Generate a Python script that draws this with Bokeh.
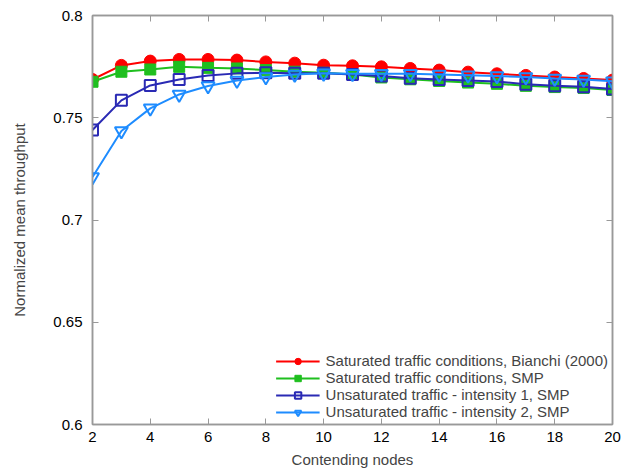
from bokeh.plotting import figure
from bokeh.models import LinearAxis, FixedTicker, Legend, LegendItem, Range1d
from bokeh.embed import file_html
from bokeh.resources import INLINE

nodes = list(range(2, 21))
bianchi = [0.7687, 0.7756, 0.7777, 0.7785, 0.7785, 0.7782, 0.7773, 0.7767, 0.7757, 0.7754,
           0.7749, 0.7741, 0.7733, 0.7723, 0.7715, 0.7707, 0.7699, 0.7692, 0.7684]
sat_smp = [0.7676, 0.7725, 0.7736, 0.7749, 0.7744, 0.7741, 0.7733, 0.7725, 0.7720, 0.7712,
           0.7697, 0.7688, 0.7680, 0.7672, 0.7666, 0.7656, 0.7650, 0.7646, 0.7636]
unsat1 = [0.7440, 0.7585, 0.7658, 0.7687, 0.7707, 0.7717, 0.7720, 0.7718, 0.7717, 0.7711,
          0.7704, 0.7693, 0.7687, 0.7682, 0.7677, 0.7664, 0.7656, 0.7651, 0.7641]
unsat2 = [0.7210, 0.7435, 0.7546, 0.7614, 0.7655, 0.7682, 0.7699, 0.7712, 0.7717, 0.7715,
          0.7715, 0.7715, 0.7712, 0.7708, 0.7704, 0.7699, 0.7692, 0.7687, 0.7679]

labels = ["Saturated traffic conditions, Bianchi (2000)",
          "Saturated traffic conditions, SMP",
          "Unsaturated traffic - intensity 1, SMP",
          "Unsaturated traffic - intensity 2, SMP"]
x_ticks = [2, 4, 6, 8, 10, 12, 14, 16, 18, 20]
y_ticks = [0.6, 0.65, 0.7, 0.75, 0.8]

FONT = "Liberation Sans"
BORDER = "#999999"
FS = "15px"

p = figure(width=628, height=470, output_backend="svg", toolbar_location=None,
           x_range=Range1d(2, 20), y_range=Range1d(0.6, 0.8),
           min_border_left=92, min_border_right=16, min_border_top=15, min_border_bottom=46)
p.xgrid.visible = False
p.ygrid.visible = False
p.outline_line_color = BORDER
p.outline_line_width = 1.5
p.background_fill_color = "white"

def style_axis(ax, show_labels=True):
    ax.axis_line_color = BORDER
    ax.axis_line_width = 1.5
    ax.major_tick_line_color = BORDER
    ax.major_tick_in = 6
    ax.major_tick_out = 0
    ax.minor_tick_line_color = None
    ax.major_label_text_font = FONT
    ax.major_label_text_font_size = FS
    ax.major_label_text_color = "#000000"
    ax.axis_label_text_font = FONT
    ax.axis_label_text_font_size = FS
    ax.axis_label_text_font_style = "normal"
    if not show_labels:
        ax.major_label_text_font_size = "0px"
        ax.major_label_text_alpha = 0

p.xaxis.ticker = FixedTicker(ticks=x_ticks)
p.yaxis.ticker = FixedTicker(ticks=y_ticks)
p.yaxis.major_label_overrides = {0.6: "0.6", 0.65: "0.65", 0.7: "0.7", 0.75: "0.75", 0.8: "0.8"}
p.xaxis.axis_label = "Contending nodes"
p.yaxis.axis_label = "Normalized mean throughput"
for ax in p.xaxis + p.yaxis:
    style_axis(ax)
p.xaxis.major_label_standoff = 7
p.xaxis.axis_label_standoff = 6
p.yaxis.major_label_standoff = 10
p.yaxis.axis_label_standoff = 22

top = LinearAxis(ticker=FixedTicker(ticks=x_ticks))
right = LinearAxis(ticker=FixedTicker(ticks=y_ticks))
for ax in (top, right):
    style_axis(ax, show_labels=False)
    ax.major_label_standoff = 0
p.add_layout(top, "above")
p.add_layout(right, "right")

colors = ["#ff0000", "#1fbf1f", "#2a2ab4", "#1e8cff"]
l0 = p.line(nodes, bianchi, line_color=colors[0], line_width=2)
m0 = p.scatter(nodes, bianchi, marker="circle", size=12, fill_color=colors[0], line_color=colors[0])
l1 = p.line(nodes, sat_smp, line_color=colors[1], line_width=2)
m1 = p.scatter(nodes, sat_smp, marker="square", size=11, fill_color=colors[1], line_color=colors[1])
l2 = p.line(nodes, unsat1, line_color=colors[2], line_width=2)
m2 = p.scatter(nodes, unsat1, marker="square", size=11, fill_color=None, line_color=colors[2], line_width=2)
l3 = p.line(nodes, unsat2, line_color=colors[3], line_width=2)
m3 = p.scatter(nodes, unsat2, marker="inverted_triangle", size=13, fill_color=None, line_color=colors[3], line_width=2)

legend = Legend(items=[LegendItem(label=labels[0], renderers=[l0, m0]),
                       LegendItem(label=labels[1], renderers=[l1, m1]),
                       LegendItem(label=labels[2], renderers=[l2, m2]),
                       LegendItem(label=labels[3], renderers=[l3, m3])],
                location="bottom_right")
legend.border_line_color = None
legend.background_fill_alpha = 0
legend.label_text_font = FONT
legend.label_text_font_size = FS
legend.glyph_width = 44
legend.glyph_height = 16
legend.label_height = 16
legend.spacing = 0
legend.padding = 2
legend.margin = 4
legend.label_standoff = 6
p.add_layout(legend, "center")

open("out.html", "w").write(file_html(p, INLINE))
